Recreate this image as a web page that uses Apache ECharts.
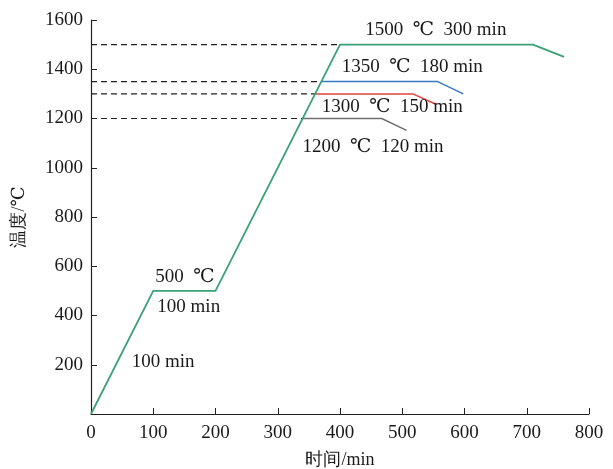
<!DOCTYPE html>
<html><head><meta charset="utf-8">
<script src="https://cdn.jsdelivr.net/npm/echarts@6/dist/echarts.min.js"></script>
<style>html,body{margin:0;padding:0;background:#fff}#c{width:613px;height:469px}</style>
</head><body><div id="c"></div>
<script>
// Data (time in min, temperature in ℃)
const mainProfile = [[0,0],[100,500],[200,500],[400,1500],[710,1500],[760,1450]];
const profile1350 = [[370,1350],[557,1350],[598,1300]];
const profile1300 = [[360,1300],[517,1300],[555,1257]];
const profile1200 = [[340,1200],[467,1200],[507,1152]];
const guideLevels = [1200,1300,1350,1500];
const guideEnds   = [340,360,370,400];
const annotations = [
  [554,1559,'1500\u2002℃\u2002300 min'],
  [516,1409,'1350\u2002℃\u2002180 min'],
  [484,1247,'1300\u2002℃\u2002150 min'],
  [453,1084,'1200\u2002℃\u2002120 min'],
  [151,556,'500\u2002℃'],
  [157,435,'100 min'],
  [116,211,'100 min']
];
const xTicks = {min:0,max:800,interval:100};
const yTicks = {min:0,max:1600,interval:200};

const serif = '"Liberation Serif","DejaVu Serif",serif';
const ink = '#1a1a1a';
const chart = echarts.init(document.getElementById('c'));
const series = [];
guideLevels.forEach((lv,i)=>{
  series.push({type:'line',data:[[0,lv],[guideEnds[i],lv]],symbol:'none',silent:true,
    lineStyle:{color:'#222',width:1.2,type:[6,4]},z:1});
});
series.push({type:'line',data:profile1200,symbol:'none',lineStyle:{color:'#707070',width:1.5},z:2});
series.push({type:'line',data:profile1300,symbol:'none',lineStyle:{color:'#e8403e',width:1.5},z:2});
series.push({type:'line',data:profile1350,symbol:'none',lineStyle:{color:'#3a78c4',width:1.5},z:2});
series.push({type:'line',data:mainProfile,symbol:'none',lineStyle:{color:'#3aa176',width:1.8},z:3});
series.push({type:'scatter',data:annotations,symbolSize:0,z:5,
  label:{show:true,position:'inside',formatter:p=>p.data[2],fontFamily:serif,fontSize:19,
    color:ink,textBorderWidth:0,opacity:1}});

chart.setOption({
  animation:false,
  grid:{left:91,right:24,top:20,bottom:55,containLabel:false,outerBoundsMode:'none'},
  xAxis:{type:'value',min:xTicks.min,max:xTicks.max,interval:xTicks.interval,
    name:'时间/min',nameLocation:'middle',nameGap:37,
    nameTextStyle:{fontFamily:serif,fontSize:18,color:ink},
    axisLine:{lineStyle:{color:'#222',width:1.2}},
    axisTick:{inside:true,length:6,lineStyle:{color:'#222'}},
    axisLabel:{fontFamily:serif,fontSize:19,color:ink,margin:10},
    splitLine:{show:false}},
  yAxis:{type:'value',min:yTicks.min,max:yTicks.max,interval:yTicks.interval,
    name:'温度/℃',nameLocation:'middle',nameGap:63,nameRotate:90,
    nameTextStyle:{fontFamily:serif,fontSize:18,color:ink},
    axisLine:{show:true,lineStyle:{color:'#222',width:1.2}},
    axisTick:{show:true,inside:true,length:6,lineStyle:{color:'#222'}},
    axisLabel:{fontFamily:serif,fontSize:19,color:ink,margin:8,
      formatter:v=>v===0?'':String(v)},
    splitLine:{show:false}},
  series:series
});
</script></body></html>
